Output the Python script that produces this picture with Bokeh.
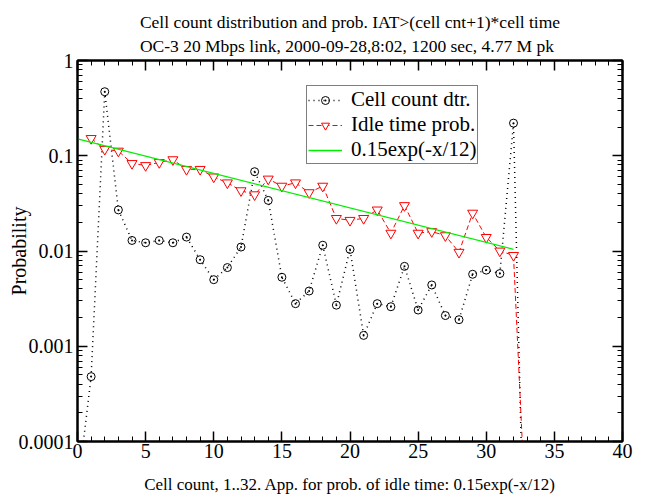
import math
from bokeh.plotting import figure
from bokeh.models import (LinearAxis, LogAxis, FixedTicker, Legend,
                          LegendItem, Range1d, CustomJSTickFormatter)
from bokeh.embed import file_html
from bokeh.resources import INLINE

# ---------------- data ----------------
cell_x = list(range(0, 34))
cell_y = [3e-5, 0.00048, 0.47, 0.027, 0.0129, 0.0122, 0.0129, 0.0122, 0.014,
          0.0081, 0.0050, 0.0067, 0.011, 0.068, 0.034, 0.0053, 0.0028, 0.0038,
          0.0115, 0.0027, 0.0104, 0.0013, 0.0028, 0.0026, 0.0069, 0.0024,
          0.0044, 0.0021, 0.0019, 0.0057, 0.0063, 0.0058, 0.22, 2.4e-7]

idle_x = list(range(1, 34))
idle_y = [0.152, 0.117, 0.112, 0.083, 0.079, 0.085, 0.091, 0.072, 0.072,
          0.060, 0.052, 0.043, 0.039, 0.057, 0.048, 0.052, 0.041, 0.048,
          0.022, 0.021, 0.022, 0.027, 0.0154, 0.030, 0.0154, 0.016, 0.0145,
          0.0097, 0.025, 0.0139, 0.0100, 0.0090, 8e-6]

fit_amp = 0.15
fit_scale = 12.0
fit_x = [0, 32]
fit_y = [fit_amp * math.exp(-xx / fit_scale) for xx in fit_x]

x_major = [0, 5, 10, 15, 20, 25, 30, 35, 40]
x_minor = list(range(0, 41))
y_major = [1e-4, 1e-3, 1e-2, 1e-1, 1.0]
y_labels = ["0.0001", "0.001", "0.01", "0.1", "1"]
y_minor = [k * 10.0 ** e for e in range(-4, 0) for k in range(2, 10)]

title1 = "Cell count distribution and prob. IAT>(cell cnt+1)*cell time"
title2 = "OC-3 20 Mbps link, 2000-09-28,8:02, 1200 sec, 4.77 M pk"
xlabel = "Cell count, 1..32. App. for prob. of idle time: 0.15exp(-x/12)"
ylabel = "Probability"

FONT = "Liberation Serif"

# ---------------- figure ----------------
p = figure(width=646, height=500, x_range=Range1d(0, 40),
           y_range=Range1d(1e-4, 1), y_axis_type="log",
           output_backend="svg", toolbar_location=None,
           min_border_left=77, min_border_right=24,
           min_border_top=60, min_border_bottom=59)
p.title.text = title1 + "\n" + title2
p.title.align = "center"
p.title.text_font = FONT
p.title.text_font_size = "17.5px"
p.title.text_font_style = "normal"
p.title.text_color = "black"
p.title.text_line_height = 1.2
p.title.standoff = 10
p.grid.visible = False
p.outline_line_color = "black"
p.outline_line_width = 2
p.background_fill_color = "white"
p.border_fill_color = "white"

xt = FixedTicker(ticks=x_major, minor_ticks=x_minor)
yt = FixedTicker(ticks=y_major, minor_ticks=y_minor)


def style_axis(ax, show_labels):
    ax.axis_line_width = 2
    ax.axis_line_color = "black"
    ax.major_tick_line_color = "black"
    ax.minor_tick_line_color = "black"
    ax.major_tick_in = 10
    ax.major_tick_out = 0
    ax.minor_tick_in = 5
    ax.minor_tick_out = 0
    ax.major_tick_line_width = 1.5
    ax.minor_tick_line_width = 1
    ax.major_label_text_font = FONT
    ax.major_label_text_color = "black"
    ax.axis_label_text_font = FONT
    ax.axis_label_text_color = "black"
    ax.axis_label_text_font_style = "normal"
    ax.major_label_text_font_size = "20px"
    ax.axis_label_text_font_size = "17px"
    if not show_labels:
        ax.formatter = CustomJSTickFormatter(code="return '';")
        ax.major_label_standoff = 0


xa = p.xaxis[0]
xa.ticker = xt
style_axis(xa, True)
xa.major_label_standoff = 2
xa.axis_label = xlabel
xa.axis_label_standoff = 14

ya = p.yaxis[0]
ya.ticker = yt
style_axis(ya, True)
ya.major_label_overrides = {v: s for v, s in zip(y_major, y_labels)}
ya.major_label_standoff = 4
ya.axis_label = ylabel
ya.axis_label_text_font_size = "20px"
ya.axis_label_standoff = -14

top = LinearAxis(ticker=xt)
style_axis(top, False)
p.add_layout(top, "above")
right = LogAxis(ticker=yt)
style_axis(right, False)
p.add_layout(right, "right")

# ---------------- glyphs ----------------
l_cell = p.line(cell_x, cell_y, line_color="black", line_width=1.5,
                line_dash="1 4")
s_cell = p.scatter(cell_x, cell_y, marker="circle_dot", size=8,
                   line_color="black", fill_color=None, line_width=1)
l_idle = p.line(idle_x, idle_y, line_color="red", line_width=1,
                line_dash="5 3")
s_idle = p.scatter(idle_x, idle_y, marker="inverted_triangle", size=10,
                   line_color="red", fill_color="white", line_width=1)
l_fit = p.line(fit_x, fit_y, line_color="#00f000", line_width=1.3)

legend = Legend(items=[
    LegendItem(label="Cell count dtr.", renderers=[l_cell, s_cell]),
    LegendItem(label="Idle time prob.", renderers=[l_idle, s_idle]),
    LegendItem(label="0.15exp(-x/12)", renderers=[l_fit]),
], location=(229, 277))
legend.label_text_font = FONT
legend.label_text_color = "black"
legend.label_text_font_size = "21px"
legend.border_line_color = "black"
legend.border_line_width = 1.5
legend.background_fill_alpha = 1
legend.padding = 1
legend.spacing = 0
legend.margin = 0
legend.glyph_width = 34
legend.glyph_height = 20
legend.label_height = 20
legend.label_standoff = 9
p.add_layout(legend, "center")

open("out.html", "w").write(file_html(p, INLINE))
